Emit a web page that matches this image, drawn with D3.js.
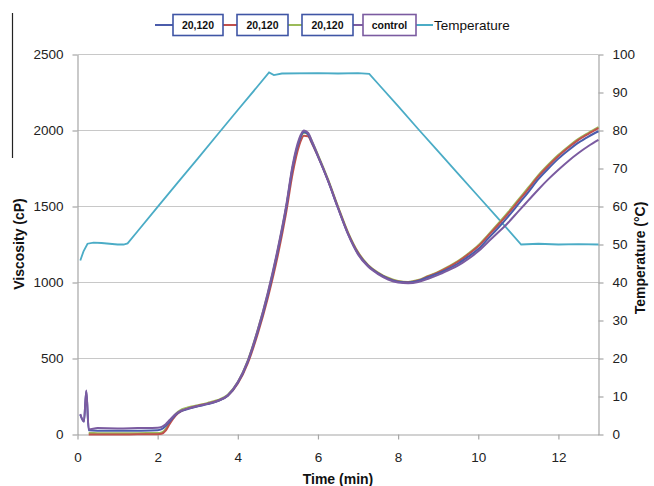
<!DOCTYPE html>
<html><head><meta charset="utf-8">
<script src="https://cdn.jsdelivr.net/npm/d3@7"></script>
<style>body{margin:0;background:#fff}svg{display:block}text{font-family:"Liberation Sans",Arial,sans-serif}</style>
</head><body><svg id="c" width="654" height="486"></svg>
<script>
// ---- data ----
const seriesNames = ["20,120","20,120","20,120","control"];
const seriesColors = ["#4B5CAB","#C0504D","#9BBB59","#7B5BA0"];
const tempName = "Temperature";
const tempColor = "#4BACC6";
const xTicks = [0,2,4,6,8,10,12];
const yLeftTicks = [0,500,1000,1500,2000,2500];
const yRightTicks = [0,10,20,30,40,50,60,70,80,90,100];

const timeA = [0.07,0.16,0.22,0.28,0.5,1.0,1.5,2.0,2.1,2.2,2.3,2.45,2.6,2.75,3.0,3.25,3.5,3.75,4.0,4.25,4.5,4.75,5.0,5.2,5.37,5.53,5.65,5.75,5.85,6.0,6.25,6.5,6.75,7.0,7.25,7.5,7.75,8.0,8.25,8.5,8.75,9.0,9.25,9.5,9.75,10.0,10.25,10.5,10.75,11.0,11.25,11.5,11.75,12.0,12.25,12.5,12.75,13.0];
const blueV = [130,85,285,28,25,24,25,28,35,55,85,130,155,168,185,200,220,255,340,480,680,920,1210,1480,1760,1930,1990,1975,1920,1830,1670,1490,1320,1190,1110,1060,1025,1005,1000,1010,1035,1060,1090,1125,1170,1220,1290,1360,1435,1515,1595,1680,1750,1815,1870,1920,1960,1995];
const purpleV = [135,85,290,35,42,40,42,44,50,68,95,135,158,170,187,202,222,258,345,485,690,935,1225,1495,1775,1945,2000,1985,1930,1835,1672,1490,1318,1185,1105,1055,1020,1000,995,1003,1025,1050,1080,1112,1155,1205,1268,1330,1395,1468,1540,1612,1680,1742,1800,1852,1898,1938];

const timeB = [0.28,0.5,1.0,1.5,2.0,2.1,2.2,2.3,2.45,2.6,2.75,3.0,3.25,3.5,3.75,4.0,4.25,4.5,4.75,5.0,5.2,5.37,5.53,5.65,5.75,5.85,6.0,6.25,6.5,6.75,7.0,7.25,7.5,7.75,8.0,8.25,8.5,8.75,9.0,9.25,9.5,9.75,10.0,10.25,10.5,10.75,11.0,11.25,11.5,11.75,12.0,12.25,12.5,12.75,13.0];
const redV = [0,0,0,1,2,5,25,70,125,155,170,188,203,222,255,335,470,665,900,1180,1450,1720,1900,1965,1962,1915,1830,1672,1495,1325,1195,1112,1062,1027,1007,1002,1013,1040,1067,1100,1138,1185,1238,1308,1380,1455,1535,1615,1698,1768,1832,1888,1938,1978,2015];
const greenV = [10,9,8,9,10,14,35,80,135,165,178,193,208,227,262,345,488,690,930,1215,1485,1755,1925,1985,1978,1928,1840,1680,1500,1330,1200,1116,1066,1031,1010,1004,1016,1043,1070,1104,1142,1190,1245,1315,1388,1464,1545,1625,1706,1776,1840,1895,1945,1985,2022];

const tempT = [0.07,0.15,0.25,0.4,0.6,0.8,1.0,1.15,1.25,1.5,2.0,2.5,3.0,3.5,4.0,4.5,4.78,4.9,5.1,6.0,6.5,7.0,7.28,7.5,8.0,8.5,9.0,9.5,10.0,10.5,11.07,11.5,12.0,12.5,13.0];
const tempV = [45.8,48.2,50.2,50.5,50.4,50.2,50.0,50.0,50.3,53.5,59.9,66.3,72.6,79.0,85.4,91.7,95.3,94.6,95.0,95.1,95.0,95.1,94.9,92.3,86.4,80.4,74.5,68.6,62.7,56.8,50.0,50.2,50.0,50.1,50.0];

// ---- layout ----
const svg = d3.select("#c");
const L = 77.5, R = 598.5, T = 54.5, B = 434.5;
const x = d3.scaleLinear().domain([0,13]).range([L,R]);
const yL = d3.scaleLinear().domain([0,2500]).range([B,T]);
const yR = d3.scaleLinear().domain([0,100]).range([B,T]);
const fmt = d3.format("d");

// gridlines
svg.append("g").selectAll("line").data(yLeftTicks.slice(1)).join("line")
  .attr("x1",L).attr("x2",R).attr("y1",d=>yL(d)).attr("y2",d=>yL(d))
  .attr("stroke","#c8c8c8").attr("stroke-width",1.2);

// axes
const axStyle = g => {
  g.selectAll(".domain").attr("stroke","#a6a6a6").attr("stroke-width",1.2);
  g.selectAll(".tick line").attr("stroke","#a6a6a6").attr("stroke-width",1.2);
  g.selectAll(".tick text").attr("fill","#222").style("font-size","13.5px").style("font-family","'Liberation Sans',Arial,sans-serif");
};
svg.append("g").attr("transform",`translate(0,${B})`)
  .call(d3.axisBottom(x).tickValues(xTicks).tickFormat(fmt).tickSize(5).tickSizeOuter(0).tickPadding(13))
  .call(axStyle);
svg.append("g").attr("transform",`translate(${L},0)`)
  .call(d3.axisLeft(yL).tickValues(yLeftTicks).tickFormat(fmt).tickSize(5).tickSizeOuter(0).tickPadding(9))
  .call(axStyle);
svg.append("g").attr("transform",`translate(${R},0)`)
  .call(d3.axisRight(yR).tickValues(yRightTicks).tickFormat(fmt).tickSize(5).tickSizeOuter(0).tickPadding(9))
  .call(axStyle);

// temperature line
const tLine = d3.line().x((d,i)=>x(tempT[i])).y(d=>yR(d)).curve(d3.curveLinear);
svg.append("path").datum(tempV).attr("d",tLine).attr("fill","none")
  .attr("stroke",tempColor).attr("stroke-width",1.8);

// viscosity lines
const drawV = (times, vals, color) => {
  const ln = d3.line().x((d,i)=>x(times[i])).y(d=>yL(d)).curve(d3.curveMonotoneX);
  svg.append("path").datum(vals).attr("d",ln).attr("fill","none")
    .attr("stroke",color).attr("stroke-width",2);
};
drawV(timeB, greenV, seriesColors[2]);
drawV(timeB, redV, seriesColors[1]);
drawV(timeA, blueV, seriesColors[0]);
drawV(timeA, purpleV, seriesColors[3]);

// axis titles
svg.append("text").attr("x",338).attr("y",484).attr("text-anchor","middle")
  .style("font-size","14px").style("font-weight","bold").attr("fill","#111").text("Time (min)");
svg.append("text").attr("transform","translate(24,244) rotate(-90)").attr("text-anchor","middle")
  .style("font-size","14px").style("font-weight","bold").attr("fill","#111").text("Viscosity (cP)");
svg.append("text").attr("transform","translate(645,258) rotate(-90)").attr("text-anchor","middle")
  .style("font-size","14px").style("font-weight","bold").attr("fill","#111").text("Temperature (°C)");

// artifact vertical line at left
svg.append("line").attr("x1",12.5).attr("x2",12.5).attr("y1",13).attr("y2",158)
  .attr("stroke","#222").attr("stroke-width",1.2);

// legend
const ly = 25;
const segs = [[155,173],[223,237],[288,302],[353,363],[416,433]];
const segColors = [seriesColors[0],seriesColors[1],seriesColors[2],seriesColors[3],tempColor];
segs.forEach((s,i)=>svg.append("line").attr("x1",s[0]).attr("x2",s[1]).attr("y1",ly).attr("y2",ly)
  .attr("stroke",segColors[i]).attr("stroke-width",2));
const boxes = [[173,223],[237,288],[302,353],[363,416]];
const boxColors = ["#3F55A5","#3F55A5","#3F55A5","#7B5BA0"];
boxes.forEach((b,i)=>{
  svg.append("rect").attr("x",b[0]).attr("y",14.5).attr("width",b[1]-b[0]).attr("height",21)
    .attr("fill","#fff").attr("stroke",boxColors[i]).attr("stroke-width",1.6);
  svg.append("text").attr("x",(b[0]+b[1])/2).attr("y",ly+4).attr("text-anchor","middle")
    .style("font-size","10.5px").style("font-weight","bold").attr("fill","#111").text(seriesNames[i]);
});
svg.append("text").attr("x",434).attr("y",ly+5).style("font-size","13.5px").attr("fill","#111").text(tempName);
</script></body></html>
